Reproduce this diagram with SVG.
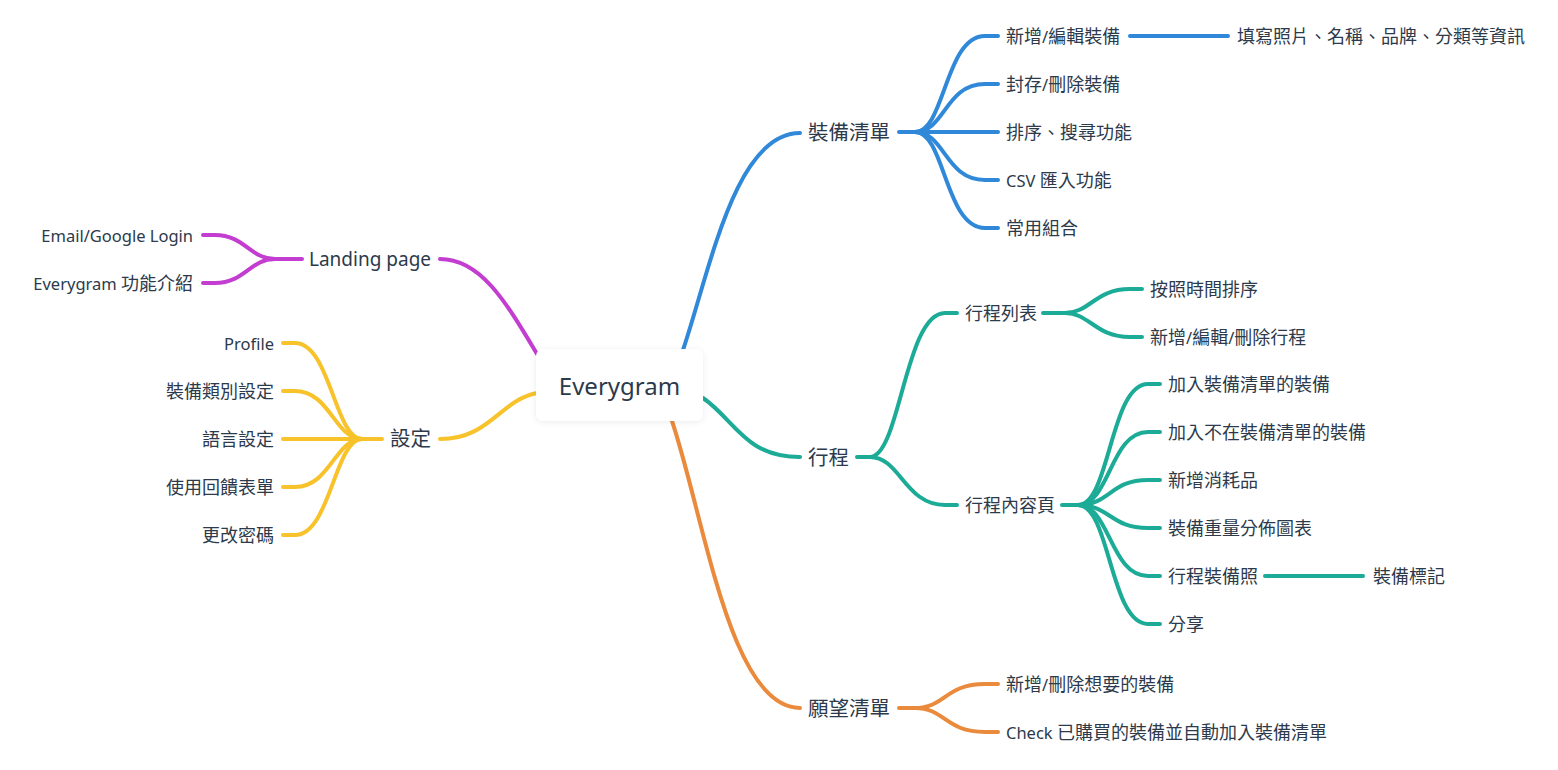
<svg xmlns="http://www.w3.org/2000/svg" width="1558" height="770" viewBox="0 0 1558 770">
<style>
.t{font-family:"Noto Sans","Noto Sans CJK TC",sans-serif;fill:#2c3a4b;dominant-baseline:central}
.c{font-size:18px}
.lat{font-size:16.5px}
.l1{font-size:20.5px}
.l1lat{font-size:19px}
.root{font-size:24px}
.e{text-anchor:end}
path{fill:none;stroke-width:4;stroke-linecap:round}
.blue{stroke:#2f88d8}
.teal{stroke:#1bab96}
.orange{stroke:#ea8a3c}
.purple{stroke:#c23dd0}
.yellow{stroke:#f7c22a}
</style>
<defs>
<filter id="sh" x="-20%" y="-30%" width="140%" height="160%">
<feDropShadow dx="0" dy="1" stdDeviation="3" flood-color="#000" flood-opacity="0.08"/>
</filter>
</defs>
<rect width="1558" height="770" fill="#ffffff"/>
<g id="connectors">
<g class="blue">
<path d="M683 350 C710 270 735 133 800 133"/>
<path d="M899 132 H915 C945 132 945 36 985 36 H998"/>
<path d="M915 132 C945 132 945 84 985 84 H998"/>
<path d="M915 132 H998"/>
<path d="M915 132 C945 132 945 180 985 180 H998"/>
<path d="M915 132 C945 132 945 228 985 228 H998"/>
<path d="M1130 36 H1228"/>
</g>
<g class="teal">
<path d="M703 398 C735 420 745 457 800 457"/>
<path d="M857 457 H870 C900 457 905 313 945 313 H957"/>
<path d="M870 457 C900 457 905 505 945 505 H957"/>
<path d="M1043 313 H1065 C1090 313 1095 289 1130 289 H1142"/>
<path d="M1065 313 C1090 313 1095 337 1130 337 H1142"/>
<path d="M1062 505 H1078 C1110 505 1110 384 1148 384 H1160"/>
<path d="M1078 505 C1110 505 1110 432 1148 432 H1160"/>
<path d="M1078 505 C1110 505 1110 480 1148 480 H1160"/>
<path d="M1078 505 C1110 505 1110 528 1148 528 H1160"/>
<path d="M1078 505 C1110 505 1110 576 1148 576 H1160"/>
<path d="M1078 505 C1110 505 1110 624 1148 624 H1160"/>
<path d="M1265 576 H1363"/>
</g>
<g class="orange">
<path d="M672 421 C705 520 730 708 800 708"/>
<path d="M899 708 H915 C945 708 945 684 985 684 H998"/>
<path d="M915 708 C945 708 945 732 985 732 H998"/>
</g>
<g class="purple">
<path d="M537 354 C505 300 480 259 440 259"/>
<path d="M302 259 H275 C250 259 245 235 215 235 H203"/>
<path d="M275 259 C250 259 245 283 215 283 H203"/>
</g>
<g class="yellow">
<path d="M537 393 C500 400 490 439 440 439"/>
<path d="M382 439 H362 C335 439 330 343 295 343 H283"/>
<path d="M362 439 C335 439 330 391 295 391 H283"/>
<path d="M362 439 H283"/>
<path d="M362 439 C335 439 330 487 295 487 H283"/>
<path d="M362 439 C335 439 330 535 295 535 H283"/>
</g>
</g>
<g id="root">
<rect x="536" y="349" width="167" height="72" rx="7" fill="#ffffff" filter="url(#sh)"/>
<text class="t root" x="619.5" y="385" text-anchor="middle">Everygram</text>
</g>
<g id="n-gear"><text class="t l1" x="808" y="132">裝備清單</text></g>
<g id="n-gear-1"><text class="t c" x="1006" y="36">新增<tspan class="lat">/</tspan>編輯裝備</text></g>
<g id="n-gear-1-1"><text class="t c" x="1237" y="36">填寫照片、名稱、品牌、分類等資訊</text></g>
<g id="n-gear-2"><text class="t c" x="1006" y="84">封存<tspan class="lat">/</tspan>刪除裝備</text></g>
<g id="n-gear-3"><text class="t c" x="1006" y="132">排序、搜尋功能</text></g>
<g id="n-gear-4"><text class="t c" x="1006" y="180"><tspan class="lat">CSV </tspan>匯入功能</text></g>
<g id="n-gear-5"><text class="t c" x="1006" y="228">常用組合</text></g>
<g id="n-trip"><text class="t l1" x="808" y="457">行程</text></g>
<g id="n-trip-list"><text class="t c" x="965" y="313">行程列表</text></g>
<g id="n-trip-list-1"><text class="t c" x="1150" y="289">按照時間排序</text></g>
<g id="n-trip-list-2"><text class="t c" x="1150" y="337">新增<tspan class="lat">/</tspan>編輯<tspan class="lat">/</tspan>刪除行程</text></g>
<g id="n-trip-page"><text class="t c" x="965" y="505">行程內容頁</text></g>
<g id="n-trip-page-1"><text class="t c" x="1168" y="384">加入裝備清單的裝備</text></g>
<g id="n-trip-page-2"><text class="t c" x="1168" y="432">加入不在裝備清單的裝備</text></g>
<g id="n-trip-page-3"><text class="t c" x="1168" y="480">新增消耗品</text></g>
<g id="n-trip-page-4"><text class="t c" x="1168" y="528">裝備重量分佈圖表</text></g>
<g id="n-trip-page-5"><text class="t c" x="1168" y="576">行程裝備照</text></g>
<g id="n-trip-page-5-1"><text class="t c" x="1373" y="576">裝備標記</text></g>
<g id="n-trip-page-6"><text class="t c" x="1168" y="624">分享</text></g>
<g id="n-wish"><text class="t l1" x="808" y="708">願望清單</text></g>
<g id="n-wish-1"><text class="t c" x="1006" y="684">新增<tspan class="lat">/</tspan>刪除想要的裝備</text></g>
<g id="n-wish-2"><text class="t c" x="1006" y="732"><tspan class="lat">Check </tspan>已購買的裝備並自動加入裝備清單</text></g>
<g id="n-landing"><text class="t l1lat" x="309" y="259">Landing page</text></g>
<g id="n-landing-1"><text class="t lat e" x="193" y="235">Email/Google Login</text></g>
<g id="n-landing-2"><text class="t c e" x="193" y="283"><tspan class="lat">Everygram </tspan>功能介紹</text></g>
<g id="n-settings"><text class="t l1" x="390" y="438">設定</text></g>
<g id="n-settings-1"><text class="t lat e" x="274" y="343">Profile</text></g>
<g id="n-settings-2"><text class="t c e" x="274" y="391">裝備類別設定</text></g>
<g id="n-settings-3"><text class="t c e" x="274" y="439">語言設定</text></g>
<g id="n-settings-4"><text class="t c e" x="274" y="487">使用回饋表單</text></g>
<g id="n-settings-5"><text class="t c e" x="274" y="535">更改密碼</text></g>
</svg>
